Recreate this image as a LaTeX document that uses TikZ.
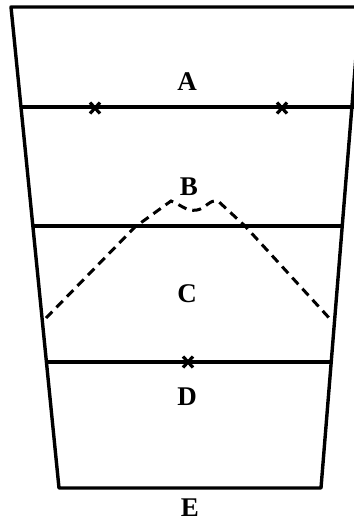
\documentclass[tikz,border=0pt]{standalone}
\usepackage{fontspec}
\setmainfont{Liberation Serif}
\begin{document}
\begin{tikzpicture}[x=1pt,y=-1pt,
  frame/.style={line width=3.4pt,line join=round,line cap=round},
  level/.style={line width=3.2pt},
  curve/.style={line width=3pt,dash pattern=on 9pt off 6pt},
  lbl/.style={font=\fontsize{27}{30}\selectfont\bfseries,inner sep=0pt},
  xmark/.style={line width=3.2pt}]
\useasboundingbox (0,0) rectangle (354,523);
\begin{scope}
\clip (0,0) rectangle (354,523);
% frame corners
\coordinate (tl) at (11,7);
\coordinate (tr) at (360,7);
\coordinate (bl) at (59,488);
\coordinate (br) at (321,488);
\draw[frame] (tr) -- (tl) -- (bl) -- (br) -- (tr);
% level lines
\coordinate (ab1) at (21,107);
\coordinate (ab2) at (354,107);
\coordinate (bc1) at (33,226);
\coordinate (bc2) at (342,226);
\coordinate (cd1) at (47,362);
\coordinate (cd2) at (331,362);
\draw[level] (ab1) -- (ab2);
\draw[level] (bc1) -- (bc2);
\draw[level] (cd1) -- (cd2);
\end{scope}
% crosses
\foreach \n/\px/\py in {x1/95/108, x2/282/108, x3/188/362}{
  \coordinate (\n) at (\px,\py);
  \draw[xmark] ([shift={(-5,-5.5)}]\n) -- ([shift={(5,5.5)}]\n);
  \draw[xmark] ([shift={(-5,5.5)}]\n) -- ([shift={(5,-5.5)}]\n);
}
% dashed curve
\coordinate (c0) at (46,318);
\coordinate (c1) at (135,227);
\coordinate (c2) at (171,201);
\coordinate (c3) at (197,210);
\coordinate (c4) at (218,201);
\coordinate (c5) at (245,226);
\coordinate (c6) at (331,320);
\draw[curve] (c0) -- (c1) -- (c2) to[out=-20,in=190] (c3) to[out=10,in=170] (c4) -- (c5) -- (c6);
% labels
\node[lbl] (A) at (187,82) {A};
\node[lbl] (B) at (189,187) {B};
\node[lbl] (C) at (187,294) {C};
\node[lbl] (D) at (187,397) {D};
\node[lbl] (E) at (190,508) {E};
\end{tikzpicture}
\end{document}
